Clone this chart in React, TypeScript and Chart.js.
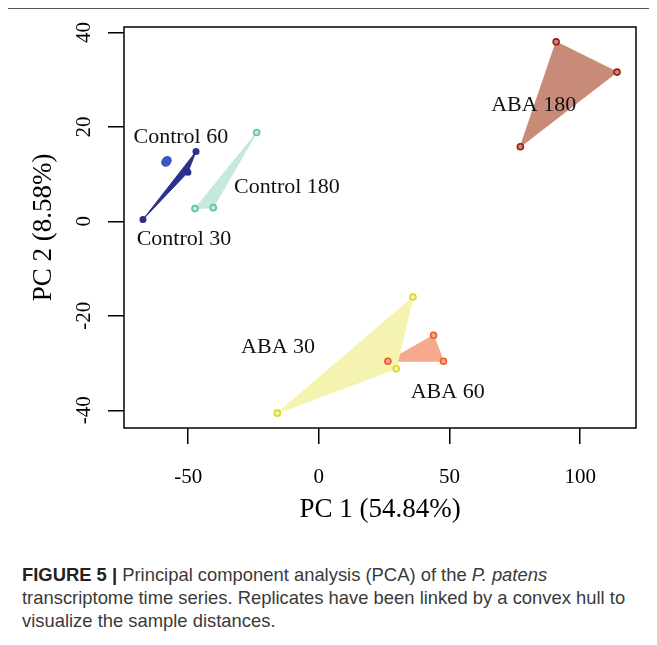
import React, { useEffect, useRef } from 'react';
import { Chart, registerables } from 'chart.js';

Chart.register(...registerables);

const SERIF = '"Liberation Serif", "Times New Roman", Times, serif';

// ---- data ----
const groupNames = ['Control 30', 'Control 60', 'Control 180', 'ABA 30', 'ABA 60', 'ABA 180'];

const control30X = [-67.3, -47.0, -50.1];
const control30Y = [0.4, 14.8, 10.4];
const control60X = [-58.6, -58.0, -58.3];
const control60Y = [12.5, 12.9, 12.7];
const control180X = [-23.8, -47.4, -40.4];
const control180Y = [18.8, 2.7, 2.9];
const aba30X = [36.0, 29.6, -15.9];
const aba30Y = [-16.0, -31.2, -40.6];
const aba60X = [43.9, 47.7, 26.4];
const aba60Y = [-24.1, -29.6, -29.6];
const aba180X = [90.8, 114.1, 77.1];
const aba180Y = [38.0, 31.6, 15.8];

const groupX = [control30X, control60X, control180X, aba30X, aba60X, aba180X];
const groupY = [control30Y, control60Y, control180Y, aba30Y, aba60Y, aba180Y];

// label anchor positions (data units)
const labelX = [-51.6, -52.8, -12.2, -15.6, 49.3, 82.2];
const labelY = [-3.8, 17.8, 7.2, -26.6, -36.1, 24.5];

const xTicks = [-50, 0, 50, 100];
const yTicks = [-40, -20, 0, 20, 40];

const xTitle = 'PC 1 (54.84%)';
const yTitle = 'PC 2 (8.58%)';

// ---- styles ----
const hullColors = ['#2c2f8e', '#3a56c0', '#c6e8df', '#f4f3b0', '#f7a98d', '#c78b77'];
const pointColors = ['#2c2f8e', '#3a56c0', '#5cc4a6', '#e3d21c', '#ee5a24', '#9b1c14'];
const pointFilled = [true, true, false, false, false, false];
const pointRadii = [3.5, 4.5, 3, 3, 3, 3];

function paddedRange(vals: number[]) {
  const lo = Math.min(...vals);
  const hi = Math.max(...vals);
  const pad = (hi - lo) * 0.04;
  return [lo - pad, hi + pad];
}

const overlayPlugin = {
  id: 'overlay',
  afterDraw(chart: any) {
    const { ctx, chartArea: a, scales } = chart;
    const xs = scales.x;
    const ys = scales.y;
    ctx.save();
    // plot box
    ctx.strokeStyle = '#000';
    ctx.lineWidth = 1.5;
    ctx.strokeRect(a.left, a.top, a.right - a.left, a.bottom - a.top);
    // y tick labels (parallel to axis)
    ctx.fillStyle = '#000';
    ctx.font = `21px ${SERIF}`;
    ctx.textAlign = 'center';
    ctx.textBaseline = 'middle';
    for (const v of yTicks) {
      const py = ys.getPixelForValue(v);
      ctx.save();
      ctx.translate(ys.right - 40, py);
      ctx.rotate(-Math.PI / 2);
      ctx.fillText(String(v), 0, 0);
      ctx.restore();
    }
    // group labels
    ctx.font = `22px ${SERIF}`;
    ctx.fillStyle = '#111';
    groupNames.forEach((name, i) => {
      ctx.fillText(name, xs.getPixelForValue(labelX[i]), ys.getPixelForValue(labelY[i]));
    });
    ctx.restore();
  },
};

export default function App() {
  const ref = useRef<HTMLCanvasElement>(null);

  useEffect(() => {
    const canvas = ref.current;
    if (!canvas) return;
    const allX = groupX.flat();
    const allY = groupY.flat();
    const [xMin, xMax] = paddedRange(allX);
    const [yMin, yMax] = paddedRange(allY);

    const datasets: any[] = [];
    groupNames.forEach((name, i) => {
      const pts = groupX[i].map((x, j) => ({ x, y: groupY[i][j] }));
      datasets.push({
        type: 'line',
        label: name + ' hull',
        data: [...pts, pts[0]],
        fill: 'shape',
        backgroundColor: hullColors[i],
        borderColor: hullColors[i],
        borderWidth: 1,
        pointRadius: 0,
        tension: 0,
        order: 2,
      });
      datasets.push({
        type: 'line',
        label: name,
        data: pts,
        showLine: false,
        pointRadius: pointRadii[i],
        pointBackgroundColor: pointFilled[i] ? pointColors[i] : hullColors[i],
        pointBorderColor: pointColors[i],
        pointBorderWidth: pointFilled[i] ? 0 : 1.6,
        order: 1,
      });
    });

    const chart = new Chart(canvas, {
      type: 'line',
      data: { datasets },
      plugins: [overlayPlugin],
      options: {
        animation: false,
        responsive: false,
        maintainAspectRatio: false,
        layout: { padding: { left: 0, right: 21, top: 19, bottom: 0 } },
        plugins: {
          legend: { display: false },
          tooltip: { enabled: false },
        },
        scales: {
          x: {
            type: 'linear',
            min: xMin,
            max: xMax,
            afterBuildTicks: (s: any) => {
              s.ticks = xTicks.map((v) => ({ value: v }));
            },
            afterFit: (s: any) => {
              s.height = 120;
            },
            grid: { drawOnChartArea: false, drawTicks: true, tickLength: 16, color: '#000', lineWidth: 1.5 },
            border: { display: false },
            ticks: {
              padding: 21,
              color: '#000',
              font: { family: SERIF, size: 21 },
              maxRotation: 0,
              autoSkip: false,
              callback: (v: any) => String(v),
            },
            title: {
              display: true,
              text: xTitle,
              color: '#000',
              font: { family: SERIF, size: 27, lineHeight: 1.2 },
              padding: { top: 0, bottom: 22 },
            },
          },
          y: {
            type: 'linear',
            min: yMin,
            max: yMax,
            afterBuildTicks: (s: any) => {
              s.ticks = yTicks.map((v) => ({ value: v }));
            },
            afterFit: (s: any) => {
              s.width = 116;
            },
            grid: { drawOnChartArea: false, drawTicks: true, tickLength: 16, color: '#000', lineWidth: 1.5 },
            border: { display: false },
            ticks: { display: false },
            title: {
              display: true,
              text: yTitle,
              color: '#000',
              font: { family: SERIF, size: 27, lineHeight: 1.2 },
              padding: { top: 20, bottom: 0 },
            },
          },
        },
      } as any,
    });
    return () => chart.destroy();
  }, []);

  return (
    <div style={{ position: 'relative', width: 649, height: 637 }}>
      <div style={{ position: 'absolute', left: -1, top: 0, width: 650, height: 1, background: '#555' }} />
      <div style={{ position: 'absolute', left: -1, top: 0, width: 1, height: 637, background: '#555' }} />
      <div style={{ position: 'absolute', left: 0, top: 0, width: 649, height: 540 }}>
        <canvas ref={ref} width={649} height={540} style={{ width: 649, height: 540, display: 'block' }} />
      </div>
      <div
        style={{
          position: 'absolute',
          left: 14,
          top: 555,
          fontFamily: '"Liberation Sans", Arial, Helvetica, sans-serif',
          fontSize: 18.4,
          lineHeight: '23px',
          color: '#3a3a3a',
          whiteSpace: 'nowrap',
        }}
      >
        <b style={{ color: '#222' }}>FIGURE 5 |</b> Principal component analysis (PCA) of the <i>P. patens</i>
        <br />
        transcriptome time series. Replicates have been linked by a convex hull to
        <br />
        visualize the sample distances.
      </div>
    </div>
  );
}
